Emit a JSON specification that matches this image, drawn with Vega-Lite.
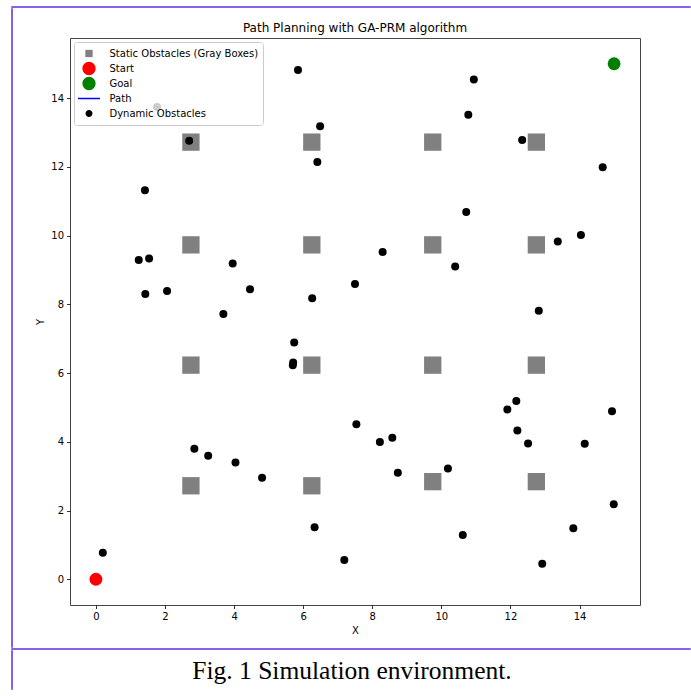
{
  "$schema": "https://vega.github.io/schema/vega-lite/v6.json",
  "padding": {"left": 11, "top": 6, "right": 0, "bottom": 0},
  "background": "white",
  "config": {
    "font": "DejaVu Sans",
    "view": {"stroke": "#444444", "strokeWidth": 1},
    "axis": {"domain": false, "grid": false, "ticks": true, "tickSize": 3.5, "tickColor": "#000000", "tickWidth": 0.8, "labelFont": "DejaVu Sans", "labelFontSize": 10, "labelColor": "#000000", "labelPadding": 3, "titleFont": "DejaVu Sans", "titleFontSize": 10, "titleFontWeight": "normal", "titleColor": "#000000"},
    "axisX": {"titlePadding": 4},
    "axisY": {"titlePadding": 5}
  },
  "datasets": {
    "pts": [
      {"x": 2.75, "y": 12.72, "kind": "Static Obstacles (Gray Boxes)"},
      {"x": 6.25, "y": 12.72, "kind": "Static Obstacles (Gray Boxes)"},
      {"x": 9.75, "y": 12.72, "kind": "Static Obstacles (Gray Boxes)"},
      {"x": 12.75, "y": 12.72, "kind": "Static Obstacles (Gray Boxes)"},
      {"x": 2.75, "y": 9.73, "kind": "Static Obstacles (Gray Boxes)"},
      {"x": 6.25, "y": 9.73, "kind": "Static Obstacles (Gray Boxes)"},
      {"x": 9.75, "y": 9.73, "kind": "Static Obstacles (Gray Boxes)"},
      {"x": 12.75, "y": 9.73, "kind": "Static Obstacles (Gray Boxes)"},
      {"x": 2.75, "y": 6.23, "kind": "Static Obstacles (Gray Boxes)"},
      {"x": 6.25, "y": 6.23, "kind": "Static Obstacles (Gray Boxes)"},
      {"x": 9.75, "y": 6.23, "kind": "Static Obstacles (Gray Boxes)"},
      {"x": 12.75, "y": 6.23, "kind": "Static Obstacles (Gray Boxes)"},
      {"x": 2.75, "y": 2.72, "kind": "Static Obstacles (Gray Boxes)"},
      {"x": 6.25, "y": 2.72, "kind": "Static Obstacles (Gray Boxes)"},
      {"x": 9.75, "y": 2.84, "kind": "Static Obstacles (Gray Boxes)"},
      {"x": 12.75, "y": 2.84, "kind": "Static Obstacles (Gray Boxes)"},
      {"x": 0, "y": 0, "kind": "Start"},
      {"x": 15, "y": 15, "kind": "Goal"},
      {"x": 5.85, "y": 14.82, "kind": "Dynamic Obstacles"},
      {"x": 10.94, "y": 14.54, "kind": "Dynamic Obstacles"},
      {"x": 10.78, "y": 13.52, "kind": "Dynamic Obstacles"},
      {"x": 1.77, "y": 13.74, "kind": "Dynamic Obstacles"},
      {"x": 6.49, "y": 13.18, "kind": "Dynamic Obstacles"},
      {"x": 2.70, "y": 12.76, "kind": "Dynamic Obstacles"},
      {"x": 12.34, "y": 12.78, "kind": "Dynamic Obstacles"},
      {"x": 6.41, "y": 12.14, "kind": "Dynamic Obstacles"},
      {"x": 14.67, "y": 11.99, "kind": "Dynamic Obstacles"},
      {"x": 1.42, "y": 11.32, "kind": "Dynamic Obstacles"},
      {"x": 10.72, "y": 10.69, "kind": "Dynamic Obstacles"},
      {"x": 8.30, "y": 9.52, "kind": "Dynamic Obstacles"},
      {"x": 1.24, "y": 9.29, "kind": "Dynamic Obstacles"},
      {"x": 1.54, "y": 9.33, "kind": "Dynamic Obstacles"},
      {"x": 3.96, "y": 9.19, "kind": "Dynamic Obstacles"},
      {"x": 10.40, "y": 9.10, "kind": "Dynamic Obstacles"},
      {"x": 13.37, "y": 9.83, "kind": "Dynamic Obstacles"},
      {"x": 14.04, "y": 10.02, "kind": "Dynamic Obstacles"},
      {"x": 1.43, "y": 8.30, "kind": "Dynamic Obstacles"},
      {"x": 2.06, "y": 8.39, "kind": "Dynamic Obstacles"},
      {"x": 4.46, "y": 8.44, "kind": "Dynamic Obstacles"},
      {"x": 6.26, "y": 8.18, "kind": "Dynamic Obstacles"},
      {"x": 7.50, "y": 8.59, "kind": "Dynamic Obstacles"},
      {"x": 3.69, "y": 7.72, "kind": "Dynamic Obstacles"},
      {"x": 12.82, "y": 7.81, "kind": "Dynamic Obstacles"},
      {"x": 5.74, "y": 6.89, "kind": "Dynamic Obstacles"},
      {"x": 5.71, "y": 6.31, "kind": "Dynamic Obstacles"},
      {"x": 5.70, "y": 6.23, "kind": "Dynamic Obstacles"},
      {"x": 7.54, "y": 4.51, "kind": "Dynamic Obstacles"},
      {"x": 12.17, "y": 5.19, "kind": "Dynamic Obstacles"},
      {"x": 11.91, "y": 4.94, "kind": "Dynamic Obstacles"},
      {"x": 14.94, "y": 4.89, "kind": "Dynamic Obstacles"},
      {"x": 12.20, "y": 4.33, "kind": "Dynamic Obstacles"},
      {"x": 12.51, "y": 3.95, "kind": "Dynamic Obstacles"},
      {"x": 14.15, "y": 3.94, "kind": "Dynamic Obstacles"},
      {"x": 8.22, "y": 3.99, "kind": "Dynamic Obstacles"},
      {"x": 8.58, "y": 4.12, "kind": "Dynamic Obstacles"},
      {"x": 8.74, "y": 3.10, "kind": "Dynamic Obstacles"},
      {"x": 10.19, "y": 3.22, "kind": "Dynamic Obstacles"},
      {"x": 2.85, "y": 3.80, "kind": "Dynamic Obstacles"},
      {"x": 3.25, "y": 3.59, "kind": "Dynamic Obstacles"},
      {"x": 4.04, "y": 3.40, "kind": "Dynamic Obstacles"},
      {"x": 4.81, "y": 2.95, "kind": "Dynamic Obstacles"},
      {"x": 14.99, "y": 2.18, "kind": "Dynamic Obstacles"},
      {"x": 6.33, "y": 1.51, "kind": "Dynamic Obstacles"},
      {"x": 13.82, "y": 1.48, "kind": "Dynamic Obstacles"},
      {"x": 10.62, "y": 1.29, "kind": "Dynamic Obstacles"},
      {"x": 7.19, "y": 0.56, "kind": "Dynamic Obstacles"},
      {"x": 12.92, "y": 0.45, "kind": "Dynamic Obstacles"},
      {"x": 0.20, "y": 0.77, "kind": "Dynamic Obstacles"}
    ]
  },
  "spacing": 0,
  "resolve": {"scale": {"color": "independent"}, "legend": {"color": "independent"}},
  "vconcat": [
    {"width": 678, "height": 0.01, "data": {"values": []}, "mark": "point", "view": {"stroke": "#5b2ee6", "strokeWidth": 1.5}},
    {
      "spacing": 22,
      "resolve": {"scale": {"color": "independent"}, "legend": {"color": "independent"}},
      "hconcat": [
        {"width": 0.01, "height": 638, "data": {"values": []}, "mark": "point", "view": {"stroke": "#5b2ee6", "strokeWidth": 1.5}},
        {
          "spacing": 0,
          "resolve": {"scale": {"color": "independent"}, "legend": {"color": "independent"}},
          "vconcat": [
            {"width": 0.01, "height": 12, "data": {"values": []}, "mark": "point", "view": {"stroke": null}},
            {
              "width": 570,
              "height": 567,
              "title": {"text": "Path Planning with GA-PRM algorithm", "fontSize": 12, "fontWeight": "normal", "font": "DejaVu Sans", "color": "#000000", "offset": 3},
              "data": {"name": "pts"},
              "encoding": {
                "x": {"field": "x", "type": "quantitative", "scale": {"domain": [-0.75, 15.75], "nice": false, "zero": false}, "axis": {"title": "X", "values": [0, 2, 4, 6, 8, 10, 12, 14]}},
                "y": {"field": "y", "type": "quantitative", "scale": {"domain": [-0.75, 15.75], "nice": false, "zero": false}, "axis": {"title": "Y", "values": [0, 2, 4, 6, 8, 10, 12, 14]}},
                "color": {
                  "field": "kind",
                  "type": "nominal",
                  "scale": {"domain": ["Static Obstacles (Gray Boxes)", "Start", "Goal", "Path", "Dynamic Obstacles"], "range": ["#808080", "#ff0000", "#008000", "#0000ff", "#000000"]},
                  "legend": {
                    "title": null,
                    "orient": "top-left",
                    "offset": 4,
                    "padding": 4,
                    "fillColor": "rgba(255,255,255,0.8)",
                    "strokeColor": "#cccccc",
                    "cornerRadius": 3,
                    "labelFont": "DejaVu Sans",
                    "labelFontSize": 10,
                    "labelColor": "#000000",
                    "symbolSize": 177,
                    "symbolStrokeWidth": 1.5,
                    "symbolOffset": 3.5,
                    "labelOffset": 13,
                    "rowPadding": 0,
                    "clipHeight": 15,
                    "encoding": {
                      "symbols": {
                        "shape": {"value": {"expr": "datum.value === 'Static Obstacles (Gray Boxes)' ? 'M-0.55,-0.55H0.55V0.55H-0.55Z' : datum.value === 'Path' ? 'M-1.65,0H1.65' : datum.value === 'Dynamic Obstacles' ? 'M-0.52,0A0.52,0.52,0,1,0,0.52,0A0.52,0.52,0,1,0,-0.52,0Z' : 'circle'"}},
                        "stroke": {"value": {"expr": "datum.value === 'Path' ? '#0000ff' : 'transparent'"}},
                        "strokeWidth": {"value": 1.5}
                      }
                    }
                  }
                }
              },
              "layer": [
                {"transform": [{"filter": "datum.kind === 'Static Obstacles (Gray Boxes)'"}], "mark": {"type": "point", "shape": "square", "filled": true, "size": 300, "opacity": 1}},
                {"transform": [{"filter": "datum.kind === 'Start' || datum.kind === 'Goal'"}], "mark": {"type": "point", "shape": "circle", "filled": true, "size": 165, "opacity": 1}},
                {"transform": [{"filter": "datum.kind === 'Dynamic Obstacles'"}], "mark": {"type": "point", "shape": "circle", "filled": true, "size": 64, "opacity": 1}}
              ]
            }
          ]
        }
      ]
    },
    {"width": 678, "height": 0.01, "data": {"values": []}, "mark": "point", "view": {"stroke": "#5b2ee6", "strokeWidth": 1.5}},
    {
      "spacing": 0,
      "hconcat": [
        {"width": 0.01, "height": 38, "data": {"values": []}, "mark": "point", "view": {"stroke": "#5b2ee6", "strokeWidth": 1.5}},
        {"width": 678, "height": 38, "data": {"values": [{"caption": "Fig. 1 Simulation environment."}]}, "mark": {"type": "text", "font": "Liberation Serif", "fontSize": 25.5, "color": "#000000", "dy": 1}, "encoding": {"text": {"field": "caption", "type": "nominal"}}, "view": {"stroke": null}}
      ]
    }
  ]
}
